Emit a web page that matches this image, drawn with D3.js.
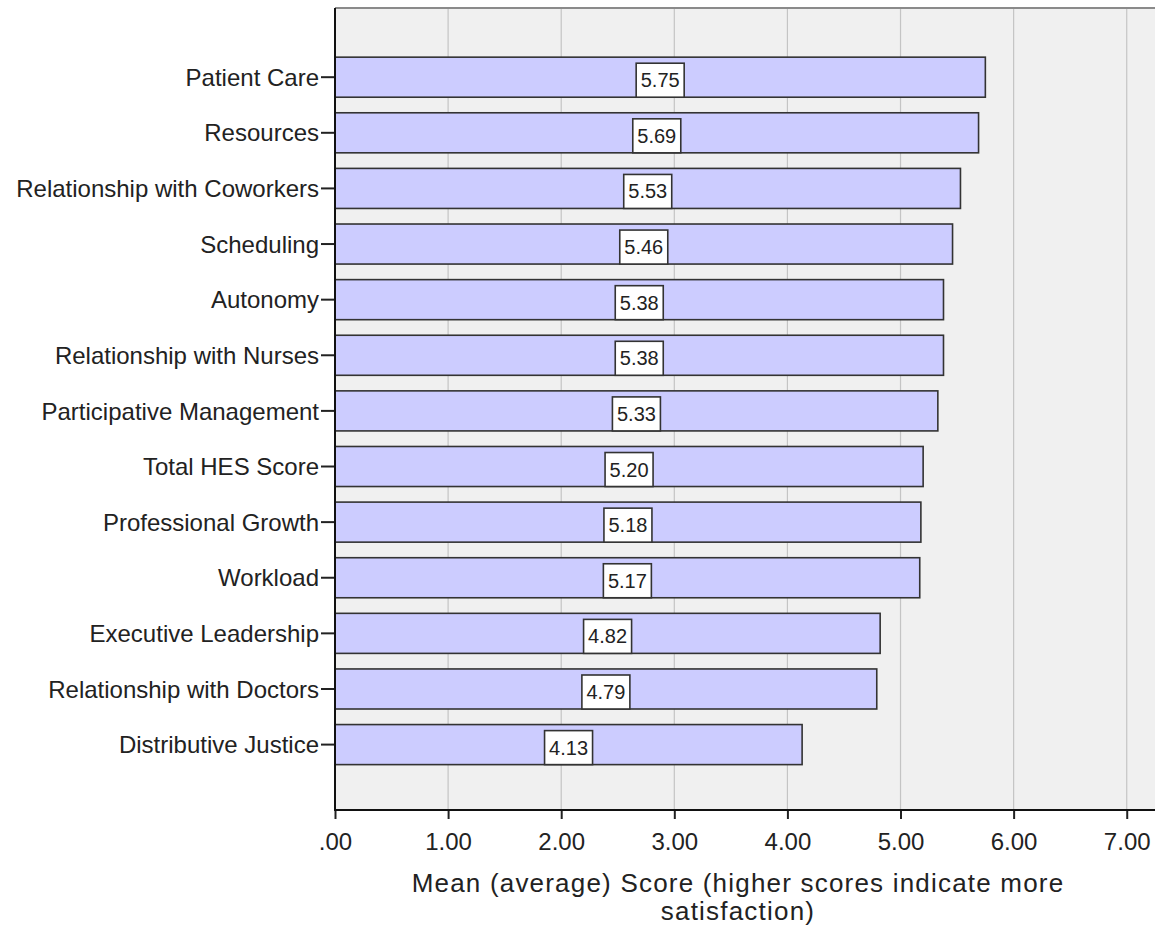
<!DOCTYPE html>
<html>
<head>
<meta charset="utf-8">
<script src="https://cdn.jsdelivr.net/npm/d3@7"></script>
<style>
html,body{margin:0;padding:0;background:#fff;}
svg{display:block;font-family:"Liberation Sans",Arial,sans-serif;}
</style>
</head>
<body>
<svg id="chart" width="1155" height="940"></svg>
<script>
const categories = ["Patient Care","Resources","Relationship with Coworkers","Scheduling","Autonomy","Relationship with Nurses","Participative Management","Total HES Score","Professional Growth","Workload","Executive Leadership","Relationship with Doctors","Distributive Justice"];
const values = [5.75,5.69,5.53,5.46,5.38,5.38,5.33,5.20,5.18,5.17,4.82,4.79,4.13];
const xTicks = [0,1,2,3,4,5,6,7];
const xTickLabels = [".00","1.00","2.00","3.00","4.00","5.00","6.00","7.00"];
const axisTitleLines = ["Mean (average) Score (higher scores indicate more","satisfaction)"];

const svg = d3.select("#chart");
const L = 335, R = 1155, T = 8, B = 810;

const x = d3.scaleLinear().domain([0, 7.25]).range([L, R]);
const y = d3.scaleBand().domain(categories).range([T, B]).paddingInner(0.28).paddingOuter(0.85).align(0.52);

// background
svg.append("rect").attr("x", L).attr("y", T).attr("width", R - L).attr("height", B - T).attr("fill", "#f0f0f0");

// grid
svg.append("g").selectAll("line").data(xTicks.filter(d => d > 0)).join("line")
  .attr("x1", d => x(d)).attr("x2", d => x(d)).attr("y1", T).attr("y2", B)
  .attr("stroke", "#c4c4c4").attr("stroke-width", 1.2);

// top border
svg.append("line").attr("x1", L).attr("x2", R).attr("y1", T).attr("y2", T).attr("stroke", "#8a8a8a").attr("stroke-width", 2);

// bars
const rows = categories.map((c, i) => ({c, v: values[i]}));
svg.append("g").selectAll("rect").data(rows).join("rect")
  .attr("x", x(0)).attr("y", d => y(d.c))
  .attr("width", d => x(d.v) - x(0)).attr("height", y.bandwidth())
  .attr("fill", "#ccccff").attr("stroke", "#333").attr("stroke-width", 1.6);

// value labels
const lab = svg.append("g").selectAll("g").data(rows).join("g")
  .attr("transform", d => `translate(${(x(0) + x(d.v)) / 2},${y(d.c) + y.bandwidth()})`);
lab.append("rect").attr("x", -24).attr("y", -34).attr("width", 48).attr("height", 34)
  .attr("fill", "#fff").attr("stroke", "#333").attr("stroke-width", 1.6);
lab.append("text").attr("x", 0).attr("y", -10).attr("text-anchor", "middle")
  .attr("font-size", 20).attr("fill", "#222").text(d => d.v.toFixed(2));

// y axis
const yAxis = d3.axisLeft(y).tickSize(14).tickPadding(2);
const gy = svg.append("g").attr("transform", `translate(${L},0)`).call(yAxis);
gy.select(".domain").remove();
gy.selectAll(".tick line").attr("stroke", "#222").attr("stroke-width", 2);
gy.selectAll(".tick text").attr("font-size", 24).attr("fill", "#222").attr("font-family", "Liberation Sans, Arial, sans-serif").attr("dy", "0.36em");
svg.append("line").attr("x1", L).attr("x2", L).attr("y1", T).attr("y2", B + 1).attr("stroke", "#111").attr("stroke-width", 2);

// x axis
const xAxis = d3.axisBottom(x).tickValues(xTicks).tickFormat((d, i) => xTickLabels[i]).tickSize(9).tickPadding(14);
const gx = svg.append("g").attr("transform", `translate(0,${B})`).call(xAxis);
gx.select(".domain").remove();
gx.selectAll(".tick line").attr("stroke", "#222").attr("stroke-width", 2);
gx.selectAll(".tick text").attr("font-size", 24).attr("fill", "#222").attr("font-family", "Liberation Sans, Arial, sans-serif");
svg.append("line").attr("x1", L).attr("x2", R).attr("y1", B).attr("y2", B).attr("stroke", "#111").attr("stroke-width", 2);

// axis title
svg.append("text").attr("text-anchor", "middle").attr("font-size", 26).attr("letter-spacing", 1.2).attr("fill", "#222")
  .selectAll("tspan").data(axisTitleLines).join("tspan")
  .attr("x", 738).attr("y", (d, i) => 892 + i * 28).text(d => d);
</script>
</body>
</html>
